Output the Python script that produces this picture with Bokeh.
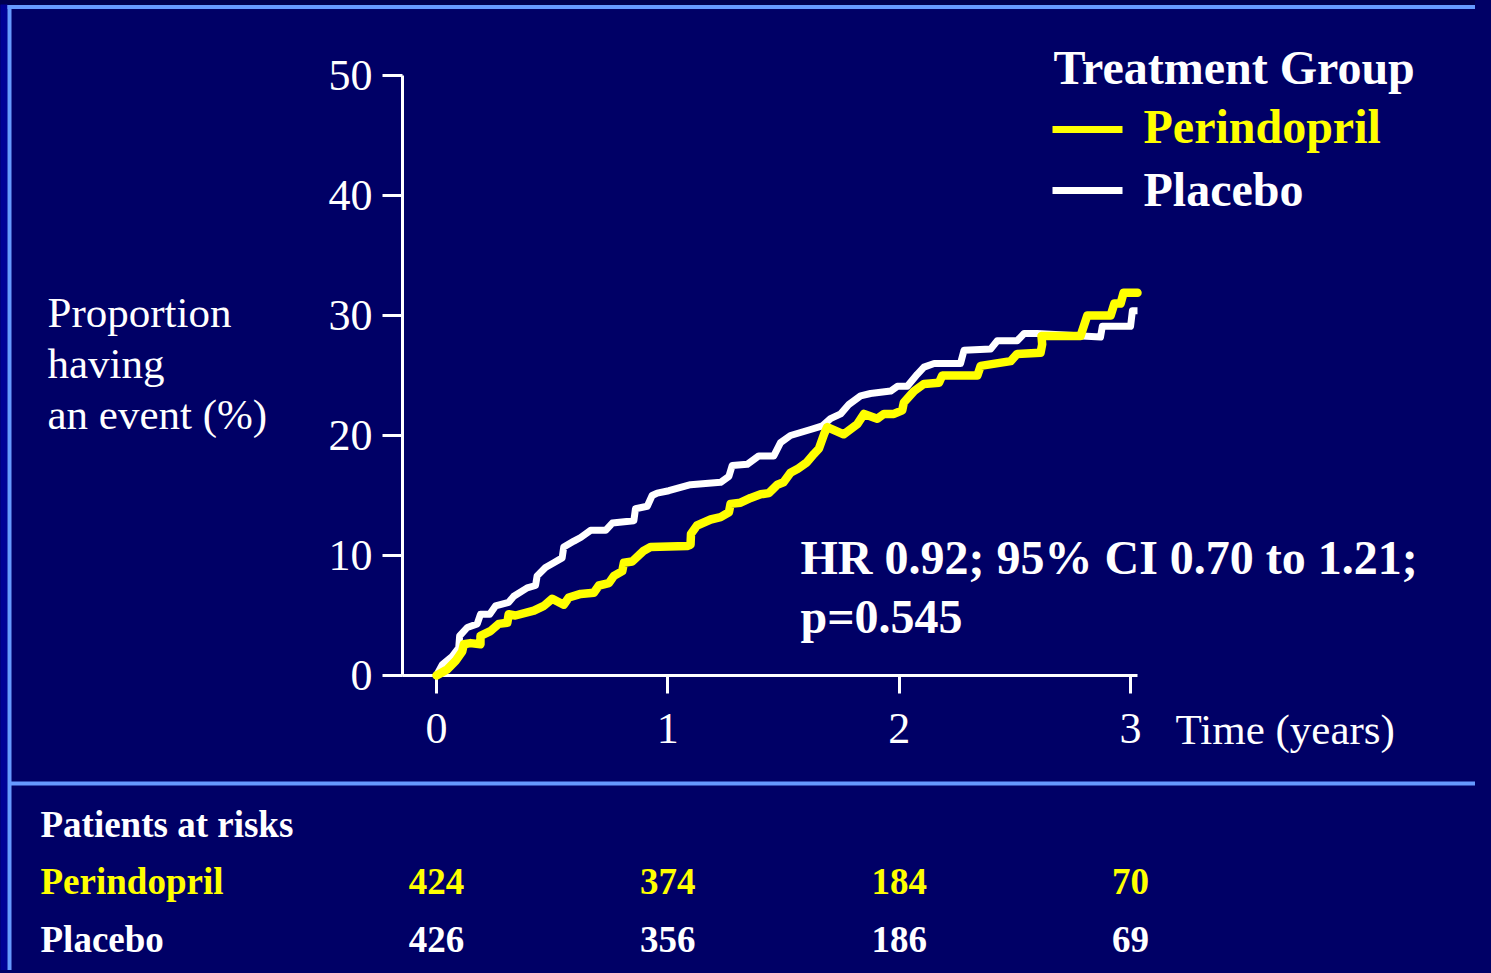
from bokeh.plotting import figure
from bokeh.models import FixedTicker
from bokeh.core.properties import value
from bokeh.embed import file_html
from bokeh.resources import INLINE

# ---------------- data ----------------
perindopril_t = [0.0, 0.046, 0.082, 0.111, 0.118, 0.147, 0.19, 0.19, 0.233, 0.269, 0.306, 0.312,
                 0.341, 0.421, 0.464, 0.5, 0.55, 0.572, 0.623, 0.68, 0.702, 0.745, 0.767, 0.803,
                 0.81, 0.846, 0.896, 0.925, 1.084, 1.098, 1.1, 1.126, 1.185, 1.228, 1.264, 1.271,
                 1.314, 1.358, 1.401, 1.437, 1.473, 1.5, 1.53, 1.56, 1.6, 1.631, 1.653, 1.675,
                 1.689, 1.76, 1.819, 1.848, 1.905, 1.934, 1.977, 2.013, 2.02, 2.064, 2.107, 2.172,
                 2.186, 2.338, 2.352, 2.482, 2.51, 2.611, 2.618, 2.615, 2.784, 2.813, 2.914, 2.93,
                 2.957, 2.97, 3.03]
perindopril_y = [0.0, 0.5, 1.2, 2.0, 2.6, 2.7, 2.6, 3.3, 3.7, 4.3, 4.4, 5.1,
                 5.0, 5.4, 5.8, 6.4, 5.9, 6.5, 6.8, 6.9, 7.5, 7.7, 8.3, 8.7,
                 9.4, 9.5, 10.4, 10.7, 10.8, 10.9, 11.8, 12.5, 13.0, 13.2, 13.6, 14.3,
                 14.4, 14.8, 15.1, 15.2, 15.9, 16.1, 16.9, 17.2, 17.75, 18.45, 18.9, 20.1,
                 20.7, 20.1, 20.95, 21.8, 21.4, 21.8, 21.8, 22.1, 22.75, 23.7, 24.3, 24.4,
                 25.0, 25.0, 25.8, 26.2, 26.8, 26.9, 27.6, 28.3, 28.3, 30.0, 30.0, 31.0,
                 31.0, 31.9, 31.9]

placebo_t = [0.0, 0.025, 0.068, 0.096, 0.1, 0.133, 0.176, 0.19, 0.23, 0.255, 0.312, 0.334,
             0.392, 0.428, 0.435, 0.471, 0.507, 0.543, 0.55, 0.594, 0.623, 0.666, 0.731, 0.76,
             0.853, 0.86, 0.911, 0.932, 0.954, 1.004, 1.098, 1.228, 1.264, 1.278, 1.343, 1.393,
             1.458, 1.487, 1.53, 1.617, 1.668, 1.703, 1.747, 1.783, 1.833, 1.876, 1.963, 1.992,
             2.035, 2.078, 2.107, 2.151, 2.265, 2.28, 2.395, 2.424, 2.51, 2.54, 2.596, 2.87,
             2.878, 3.0, 3.008, 3.03]
placebo_y = [0.0, 0.9, 1.6, 2.3, 3.3, 4.0, 4.3, 5.1, 5.1, 5.8, 6.1, 6.6,
             7.3, 7.5, 8.3, 9.0, 9.4, 9.8, 10.7, 11.2, 11.5, 12.1, 12.1, 12.7,
             12.9, 13.9, 14.1, 15.0, 15.2, 15.4, 15.9, 16.1, 16.6, 17.5, 17.6, 18.3,
             18.3, 19.4, 20.0, 20.5, 20.8, 21.4, 21.8, 22.6, 23.3, 23.5, 23.7, 24.1,
             24.1, 25.1, 25.7, 26.0, 26.0, 27.1, 27.2, 27.9, 27.9, 28.5, 28.5, 28.2,
             29.1, 29.1, 30.4, 30.4]

risk_times = [0, 1, 2, 3]
risk_perindopril = [424, 374, 184, 70]
risk_placebo = [426, 356, 186, 69]

x_ticks = [0, 1, 2, 3]
y_ticks = [0, 10, 20, 30, 40, 50]

series_names = ["Perindopril", "Placebo"]
legend_title = "Treatment Group"
y_label_lines = ["Proportion", "having", "an event (%)"]
x_label = "Time (years)"
stat_lines = ["HR 0.92; 95% CI 0.70 to 1.21;", "p=0.545"]
risk_title = "Patients at risks"

# ---------------- layout ----------------
BG = "#000066"
EDGE = "#6699FF"
YEL = "#FFFF00"
FONT = "Liberation Serif"

W, H = 1475, 970
X0, X1 = -0.147, 3.03
Y0, Y1 = 0, 50
FL, FW = 402, 735
FT, FH = 75, 600


def dx(px):
    return X0 + (px - FL) * (X1 - X0) / FW


def dy(py):
    return Y1 - (py - FT) * (Y1 - Y0) / FH


p = figure(width=W, height=H, x_range=(X0, X1), y_range=(Y0, Y1),
           output_backend="svg", toolbar_location=None,
           min_border_left=FL, min_border_right=W - FL - FW,
           min_border_top=FT, min_border_bottom=H - FT - FH)
p.background_fill_color = BG
p.border_fill_color = BG
p.outline_line_color = None
p.grid.visible = False

for ax in (p.xaxis[0], p.yaxis[0]):
    ax.axis_line_color = "white"
    ax.axis_line_width = 3
    ax.major_tick_line_color = "white"
    ax.major_tick_line_width = 3
    ax.major_tick_in = 0
    ax.minor_tick_line_color = None
    ax.major_label_text_color = "white"
    ax.major_label_text_font = FONT
    ax.major_label_text_font_size = "44px"
p.xaxis.ticker = FixedTicker(ticks=x_ticks)
p.yaxis.ticker = FixedTicker(ticks=y_ticks)
p.xaxis.major_tick_out = 18
p.yaxis.major_tick_out = 20
p.xaxis.major_label_standoff = 20
p.yaxis.major_label_standoff = 10

# x axis line continues slightly left of the y axis, as on the slide
p.line([dx(393), dx(402)], [0, 0], line_color="white", line_width=3, level="overlay")

# curves
p.line(placebo_t, placebo_y, line_color="white", line_width=7, line_join="round",
       level="overlay")
p.line(perindopril_t, perindopril_y, line_color=YEL, line_width=8.5, line_join="round",
       line_cap="round", level="overlay")

# legend samples
p.line([dx(1052), dx(1122)], [dy(129), dy(129)], line_color=YEL, line_width=7)
p.line([dx(1052), dx(1122)], [dy(190), dy(190)], line_color="white", line_width=7)

# slide frame decoration (outside the plot frame)
p.line([dx(-5), dx(1500)], [dy(2), dy(2)], line_color="#000050", line_width=5, level="overlay")
p.line([dx(3.5), dx(3.5)], [dy(4), dy(1000)], line_color="#000096", line_width=7, level="overlay")
p.line([dx(7), dx(1500)], [dy(6.5), dy(6.5)], line_color=EDGE, line_width=4, level="overlay")
p.line([dx(9), dx(9)], [dy(4.5), dy(1000)], line_color=EDGE, line_width=4, level="overlay")
p.line([dx(9), dx(1500)], [dy(783), dy(783)], line_color=EDGE, line_width=4, level="overlay")


def txt(texts, xs, ys, size, color="white", bold=False, align="left"):
    p.text(x=xs, y=ys, text=texts, text_font=value(FONT),
           text_font_size=f"{size}px",
           text_font_style="bold" if bold else "normal",
           text_color=color, text_align=align, text_baseline="alphabetic",
           level="overlay")


# legend
txt([legend_title], [dx(1053)], [dy(67)], 48, bold=True)
txt([series_names[0]], [dx(1143)], [dy(126)], 48, color=YEL, bold=True)
txt([series_names[1]], [dx(1143)], [dy(189)], 48, bold=True)

# axis titles
txt(y_label_lines, [dx(47)] * 3, [dy(312 + 51 * i) for i in range(3)], 43)
txt([x_label], [dx(1175)], [dy(729)], 43)

# statistics
txt(stat_lines, [dx(800)] * 2, [dy(557), dy(616)], 48, bold=True)

# patients at risk table
txt([risk_title], [dx(40)], [dy(824)], 37, bold=True)
txt([series_names[0]], [dx(40)], [dy(881)], 37, color=YEL, bold=True)
txt([series_names[1]], [dx(40)], [dy(939)], 37, bold=True)
txt([str(v) for v in risk_perindopril], risk_times, [dy(881)] * 4, 37, color=YEL,
    bold=True, align="center")
txt([str(v) for v in risk_placebo], risk_times, [dy(939)] * 4, 37, bold=True,
    align="center")

try:
    from bokeh.models import GlobalInlineStyleSheet
    p.stylesheets = [GlobalInlineStyleSheet(css="body { background-color: #000066; }")]
except Exception:
    pass

open("out.html", "w").write(file_html(p, INLINE))
